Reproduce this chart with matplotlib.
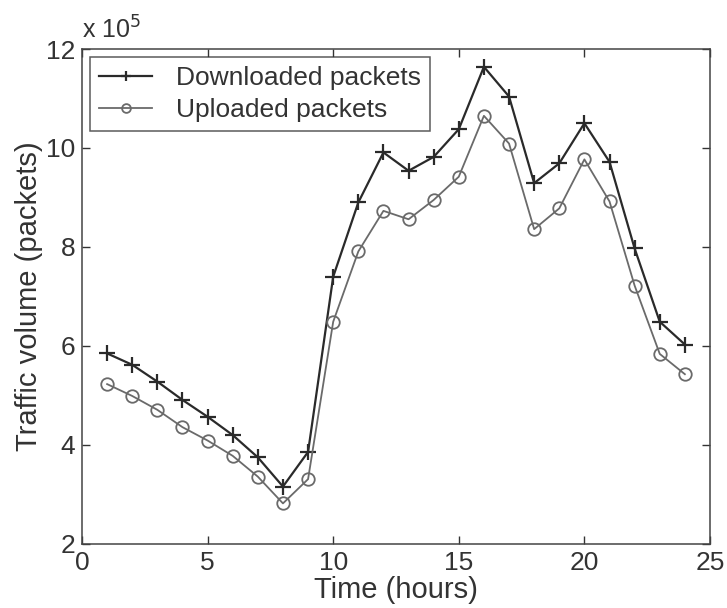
import numpy as np
import matplotlib.pyplot as plt
from matplotlib.ticker import FuncFormatter

plt.rcParams['font.family'] = ['Liberation Sans', 'DejaVu Sans']

hours = list(range(1, 25))

# packets per hour, in units of 1e5
downloaded = [5.85, 5.62, 5.28, 4.91, 4.57, 4.20, 3.75, 3.16, 3.86, 7.40,
              8.90, 9.91, 9.54, 9.82, 10.38, 11.64, 11.04, 9.29, 9.69, 10.50,
              9.72, 7.97, 6.49, 6.03]
uploaded = [5.23, 4.99, 4.71, 4.36, 4.09, 3.78, 3.36, 2.82, 3.31, 6.49,
            7.91, 8.73, 8.56, 8.95, 9.42, 10.65, 10.09, 8.36, 8.78, 9.77,
            8.92, 7.22, 5.84, 5.43]

scale = 1e5
down = np.array(downloaded) * scale
up = np.array(uploaded) * scale

fig = plt.figure(figsize=(7.27, 6.08), dpi=100)
ax = fig.add_axes([0.1128, 0.1053, 0.8638, 0.8141])

ax.plot(hours, down, color='#2a2a2a', lw=1.6, marker='+', ms=11, mew=1.6,
        label='Downloaded packets')
ax.plot(hours, up, color='#6a6a6a', lw=1.3, marker='o', ms=9, mew=1.3,
        mfc='none', label='Uploaded packets')

ax.set_xlim(0, 25)
ax.set_ylim(2 * scale, 12 * scale)
ax.set_xticks([0, 5, 10, 15, 20, 25])
ax.set_yticks(np.arange(2, 13, 2) * scale)
ax.yaxis.set_major_formatter(FuncFormatter(lambda v, p: f'{v / scale:g}'))

ax.tick_params(direction='in', length=6, width=1, top=True, right=True,
               labelsize=19, colors='#333333', pad=5)
for s in ax.spines.values():
    s.set_color('#444444')
    s.set_linewidth(1.1)

ax.set_xlabel('Time (hours)', fontsize=21, color='#333333', labelpad=1)
ax.set_ylabel('Traffic volume (packets)', fontsize=21, color='#333333',
              labelpad=2)
ax.text(0.0, 1.01, r'x 10$^{5}$', transform=ax.transAxes, fontsize=18,
        color='#333333', ha='left', va='bottom')

leg = ax.legend(loc='upper left', fontsize=19, frameon=True, fancybox=False,
                borderaxespad=0.3, handlelength=2.0, handletextpad=0.9,
                labelspacing=0.3, borderpad=0.35, markerscale=0.7)
leg.get_frame().set_edgecolor('#333333')
leg.get_frame().set_linewidth(1.1)
for t in leg.get_texts():
    t.set_color('#333333')

fig.savefig('out.png', dpi=100)
